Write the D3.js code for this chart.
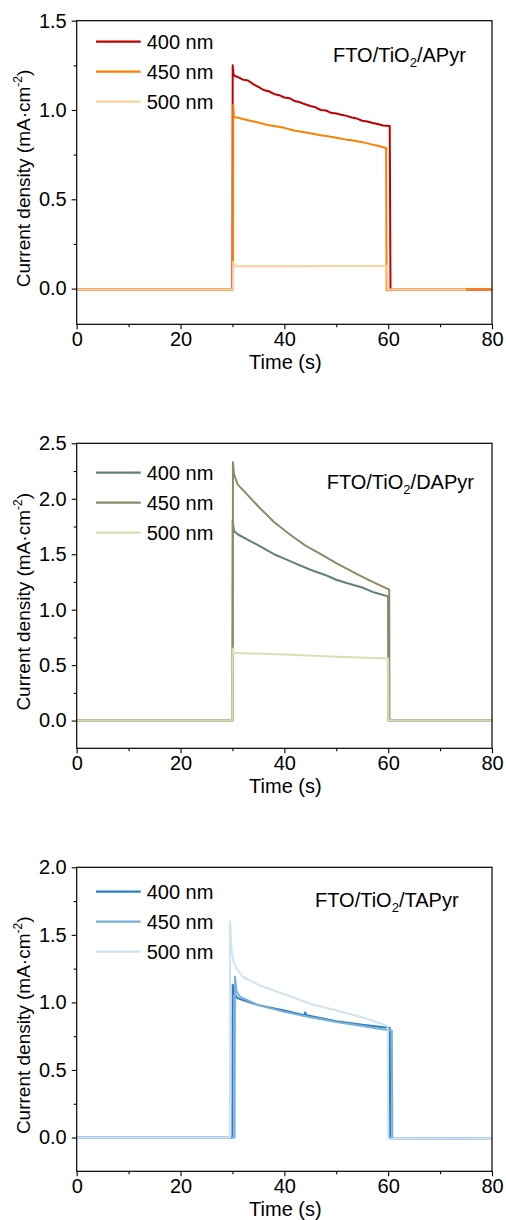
<!DOCTYPE html>
<html>
<head>
<meta charset="utf-8">
<script src="https://cdn.jsdelivr.net/npm/d3@7"></script>
<style>
  body { margin: 0; background: #fff; }
  svg { display: block; font-family: "Liberation Sans", Arial, sans-serif; }
</style>
</head>
<body>
<div id="chart"></div>
<script>
// Series data: [time (s), current density (mA/cm2)]
const wavelengths = ["400 nm", "450 nm", "500 nm"];
const xTicks = [0, 20, 40, 60, 80];

const apyr400 = [[0,-0.005],[30.0,-0.005],[30.05,1.25],[30.2,1.2],[30.5,1.19],[31,1.185],[32,1.17],[33,1.165],[34,1.145],[35,1.13],[36,1.112],[37,1.105],[38,1.09],[39,1.083],[40,1.07],[41,1.066],[42,1.05],[43,1.043],[44,1.032],[45,1.022],[46,1.015],[47,1.0],[48,0.997],[49,0.984],[50,0.98],[51,0.973],[52,0.967],[53,0.958],[54,0.952],[55,0.94],[56,0.936],[57,0.927],[58,0.922],[59,0.913],[60.3,0.91],[60.45,-0.01],[61,-0.005],[80,-0.005]];
const apyr450 = [[0,-0.005],[30.1,-0.005],[30.15,1.03],[30.3,0.96],[31,0.958],[32,0.95],[33,0.943],[35,0.93],[37,0.914],[38,0.91],[40,0.9],[42,0.884],[43,0.88],[45,0.87],[47,0.858],[48,0.855],[50,0.845],[52,0.834],[53,0.83],[55,0.82],[57,0.806],[58,0.8],[59.6,0.787],[59.7,-0.01],[61,-0.005],[80,-0.005]];
const apyr500 = [[0,-0.005],[30.1,-0.005],[30.15,0.15],[30.4,0.125],[40,0.125],[50,0.127],[59.8,0.127],[59.9,-0.005],[75,-0.005]];

const dapyr400 = [[0,0],[30.0,0],[30.05,1.8],[30.3,1.71],[31,1.68],[33,1.63],[35,1.58],[38,1.5],[40,1.46],[42,1.42],[45,1.36],[48,1.31],[50,1.27],[52,1.24],[55,1.2],[57,1.16],[60,1.12],[60.05,0],[80,0]];
const dapyr450 = [[0,0],[30.05,0],[30.1,2.33],[30.3,2.22],[31,2.13],[33,2.03],[35,1.93],[38,1.79],[41,1.68],[44,1.58],[47,1.5],[50,1.42],[54,1.32],[57,1.25],[60.2,1.18],[60.25,0],[80,0]];
const dapyr500 = [[0,0],[30.0,0],[30.05,0.65],[30.3,0.61],[40,0.595],[50,0.575],[60,0.56],[60.05,0],[80,0]];

const tapyr400 = [[0,0],[30.0,0],[30.05,1.13],[30.3,1.07],[31,1.03],[35,0.98],[40,0.94],[43.8,0.905],[44,0.925],[44.3,0.905],[50,0.86],[55,0.835],[60.3,0.81],[60.4,-0.01],[62,-0.01],[80,-0.005]];
const tapyr450 = [[0,0],[30.4,0],[30.5,1.19],[30.8,1.08],[31.5,1.04],[35,0.98],[40,0.93],[45,0.89],[50,0.855],[55,0.825],[60.7,0.79],[60.8,-0.01],[62,-0.01],[80,-0.005]];
const tapyr500 = [[0,0],[29.5,0],[29.55,1.6],[29.8,1.4],[30.2,1.3],[31,1.24],[32,1.19],[35,1.13],[40,1.06],[45,0.99],[50,0.94],[55,0.89],[59.9,0.825],[60,-0.01],[62,-0.01],[80,-0.005]];

const panels = [
  { sample: "APyr", series: [apyr400, apyr450, apyr500], colors: ["#c00000", "#ff8000", "#fcd29a"],
    yDomain: [-0.2, 1.5], yTicks: [0, 0.5, 1.0, 1.5], top: 20.7, bottom: 324.3, legendY: 21, labelX: 333, labelY: 34 },
  { sample: "DAPyr", series: [dapyr400, dapyr450, dapyr500], colors: ["#5f8272", "#8e8968", "#dcdcb2"],
    yDomain: [-0.25, 2.5], yTicks: [0, 0.5, 1.0, 1.5, 2.0, 2.5], top: 443.3, bottom: 748.3, legendY: 29.4, labelX: 326.7, labelY: 38.4 },
  { sample: "TAPyr", series: [tapyr400, tapyr450, tapyr500], colors: ["#2e7fc0", "#78b0da", "#cfe3f1"],
    yDomain: [-0.25, 2.0], yTicks: [0, 0.5, 1.0, 1.5, 2.0], top: 867.3, bottom: 1171.3, legendY: 24.4, labelX: 315, labelY: 32.7 }
];

const width = 506, height = 1220;
const left = 76.7, right = 492;
const fs = 20; // main font size

const svg = d3.select("#chart").append("svg")
  .attr("width", width)
  .attr("height", height);

const x = d3.scaleLinear().domain([0, 80]).range([left, right]);

panels.forEach(p => {
  const y = d3.scaleLinear().domain(p.yDomain).range([p.bottom, p.top]);
  const g = svg.append("g");

  // data lines (drawn under the frame)
  const line = d3.line().x(d => x(d[0])).y(d => y(d[1]));
  p.series.forEach((s, i) => {
    g.append("path")
      .datum(s)
      .attr("d", line)
      .attr("fill", "none")
      .attr("stroke", p.colors[i])
      .attr("stroke-width", 2)
      .attr("stroke-linejoin", "round");
  });

  // frame
  g.append("rect")
    .attr("x", left).attr("y", p.top)
    .attr("width", right - left).attr("height", p.bottom - p.top)
    .attr("fill", "none").attr("stroke", "#000").attr("stroke-width", 1.2);

  // x axis: major + minor ticks
  const xAxis = g.append("g").attr("transform", `translate(0,${p.bottom})`)
    .call(d3.axisBottom(x).tickValues(xTicks).tickSize(5).tickPadding(3).tickFormat(d3.format("d")));
  g.append("g").attr("transform", `translate(0,${p.bottom})`)
    .call(d3.axisBottom(x).tickValues([10, 30, 50, 70]).tickSize(3).tickFormat(""))
    .call(a => a.select(".domain").remove());

  // y axis
  const yAxis = g.append("g").attr("transform", `translate(${left},0)`)
    .call(d3.axisLeft(y).tickValues(p.yTicks).tickSize(5).tickPadding(5).tickFormat(d3.format(".1f")));
  const minorY = d3.range(0.25, p.yDomain[1], 0.5).filter(v => v < p.yDomain[1]);
  g.append("g").attr("transform", `translate(${left},0)`)
    .call(d3.axisLeft(y).tickValues(minorY).tickSize(3).tickFormat(""))
    .call(a => a.select(".domain").remove());

  [xAxis, yAxis].forEach(a => {
    a.select(".domain").remove();
    a.selectAll("text").attr("font-size", fs).attr("fill", "#000")
      .attr("font-family", "Liberation Sans, Arial, sans-serif");
  });
  g.selectAll(".tick line").attr("stroke", "#000").attr("stroke-width", 1.1);

  // axis titles
  g.append("text")
    .attr("x", (left + right) / 2 + 1).attr("y", p.bottom + 45)
    .attr("text-anchor", "middle").attr("font-size", fs)
    .text("Time (s)");

  const yt = g.append("text")
    .attr("transform", `translate(30,${(p.top + p.bottom) / 2 + 6}) rotate(-90)`)
    .attr("text-anchor", "middle").attr("font-size", 19);
  yt.append("tspan").text("Current density (mA·cm");
  yt.append("tspan").attr("font-size", 12).attr("dy", -8).text("-2");
  yt.append("tspan").attr("dy", 8).text(")");

  // legend
  wavelengths.forEach((w, i) => {
    const ly = p.top + p.legendY + i * 30;
    g.append("line")
      .attr("x1", 96).attr("x2", 140.7).attr("y1", ly).attr("y2", ly)
      .attr("stroke", p.colors[i]).attr("stroke-width", 2.2);
    g.append("text")
      .attr("x", 146.7).attr("y", ly + 7)
      .attr("font-size", fs).text(w);
  });

  // sample label
  const st = g.append("text")
    .attr("x", p.labelX).attr("y", p.top + p.labelY + 7)
    .attr("font-size", fs);
  st.append("tspan").text("FTO/TiO");
  st.append("tspan").attr("font-size", 13).attr("dy", 5).text("2");
  st.append("tspan").attr("dy", -5).text("/" + p.sample);
});
</script>
</body>
</html>
